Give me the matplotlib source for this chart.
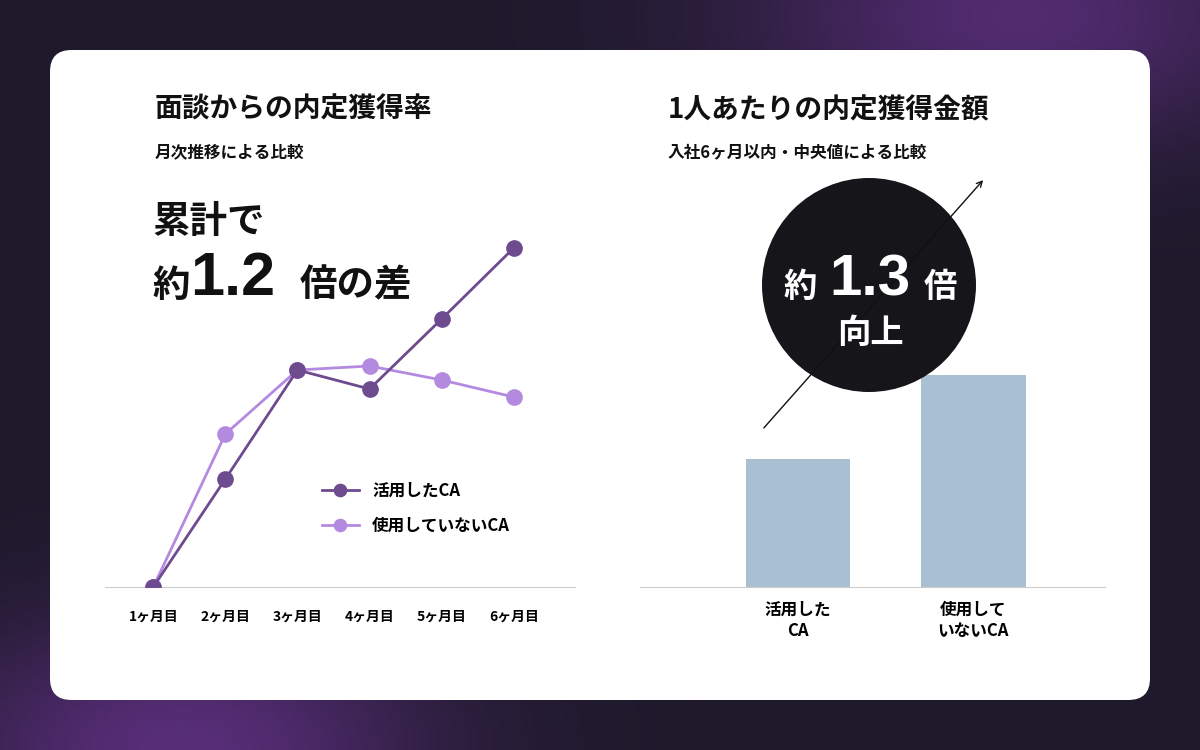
import numpy as np
import matplotlib
matplotlib.use("Agg")
import matplotlib.pyplot as plt
from matplotlib.patches import FancyBboxPatch, Circle

plt.rcParams['font.family'] = ['Noto Sans CJK JP', 'DejaVu Sans']

months = ["1", "2", "3", "4", "5", "6"]
used = [0, 108, 217, 198, 268, 339]
not_used = [0, 153, 217, 221, 207, 190]
bar_labels = ["活用した\nCA", "使用して\nいないCA"]
bar_values = [128, 212]

W, H = 1200, 750
fig = plt.figure(figsize=(12, 7.5), dpi=100)

def fx(x): return x / W
def fy(y): return 1 - y / H

# background
bg = fig.add_axes([0, 0, 1, 1]); bg.axis('off')
yy, xx = np.mgrid[0:1:200j, 0:1:300j]
c1 = np.array([0.12, 0.10, 0.17]); c2 = np.array([0.40, 0.20, 0.55])
t2 = np.exp(-((xx - 0.85) ** 2 / 0.05 + (yy - 0.02) ** 2 / 0.03))
t3 = np.exp(-((xx - 0.15) ** 2 / 0.04 + (yy - 1.0) ** 2 / 0.03))
img = c1 + (c2 - c1) * (0.7 * t2[..., None] + 0.8 * t3[..., None])
img = np.clip(img, 0, 1)
bg.imshow(img, extent=[0, 1, 0, 1], aspect='auto', origin='upper')
bg.set_xlim(0, 1); bg.set_ylim(0, 1)
bg.add_patch(FancyBboxPatch((fx(50), fy(700)), fx(1100), 650 / H,
             boxstyle="round,pad=0,rounding_size=0.018", fc='white', ec='none',
             transform=bg.transAxes, mutation_aspect=W / H))

# text
fig.text(fx(155), fy(110), "面談からの内定獲得率", fontsize=20, weight='bold', va='center', color='#111')
fig.text(fx(155), fy(152), "月次推移による比較", fontsize=12, weight='bold', va='center', color='#111')
fig.text(fx(152), fy(222), "累計で", fontsize=27, weight='bold', va='center', color='#111')
fig.text(fx(152), fy(285), "約", fontsize=27, weight='bold', va='center', color='#111')
fig.text(fx(190), fy(280), "1.2", fontsize=44, weight='bold', va='center', color='#111',
         family='Liberation Sans')
fig.text(fx(300), fy(285), "倍の差", fontsize=27, weight='bold', va='center', color='#111')

fig.text(fx(668), fy(110), "1人あたりの内定獲得金額", fontsize=20, weight='bold', va='center', color='#111')
fig.text(fx(668), fy(152), "入社6ヶ月以内・中央値による比較", fontsize=12, weight='bold', va='center', color='#111')

# line chart
ax = fig.add_axes([fx(105), fy(587), fx(470), 400 / H])
x = np.arange(len(months))
ax.set_xlim(-0.67, 5.85); ax.set_ylim(0, 400)
ax.plot(x, not_used, '-o', color='#b48ae0', lw=2, ms=11, label='使用していないCA', zorder=2)
ax.plot(x, used, '-o', color='#6e4a8e', lw=2, ms=11, label='活用したCA', zorder=3)
for s in ['top', 'right', 'left']:
    ax.spines[s].set_visible(False)
ax.spines['bottom'].set_color('#cccccc')
ax.set_yticks([])
ax.set_xticks(x)
ax.set_xticklabels([m + "ヶ月目" for m in months], fontsize=10, weight='bold')
ax.tick_params(axis='x', length=0, pad=16)
h, l = ax.get_legend_handles_labels()
leg = ax.legend(h[::-1], l[::-1], loc='upper left', bbox_to_anchor=(0.43, 0.30), frameon=False,
          prop={'weight': 'bold', 'size': 12}, handlelength=2.2, labelspacing=1.0, markerscale=0.8)
ax.patch.set_alpha(0)

# bar chart
bx = fig.add_axes([fx(640), fy(587), fx(465), 400 / H])
bx.set_xlim(-0.9, 1.75); bx.set_ylim(0, 400)
bx.bar([0, 1], bar_values, width=0.595, color='#a9bfd2')
for s in ['top', 'right', 'left']:
    bx.spines[s].set_visible(False)
bx.spines['bottom'].set_color('#cccccc')
bx.set_yticks([]); bx.set_xticks([0, 1])
bx.set_xticklabels(bar_labels, fontsize=12, weight='bold')
bx.tick_params(axis='x', length=0, pad=10)
bx.patch.set_alpha(0)

# arrow + circle
ov = fig.add_axes([0, 0, 1, 1]); ov.axis('off'); ov.set_xlim(0, W); ov.set_ylim(H, 0)
ov.annotate("", xy=(985, 178), xytext=(762, 430),
            arrowprops=dict(arrowstyle='->', color='#111', lw=1))
ov.add_patch(Circle((869, 285), 107, fc='#15151a', ec='none'))
ov.text(800, 288, "約", fontsize=24, weight='bold', color='white', ha='center', va='center')
ov.text(870, 280, "1.3", fontsize=42, weight='bold', color='white', ha='center', va='center',
        family='Liberation Sans')
ov.text(940, 288, "倍", fontsize=24, weight='bold', color='white', ha='center', va='center')
ov.text(870, 333, "向上", fontsize=24, weight='bold', color='white', ha='center', va='center')

fig.savefig("out.png", dpi=100)
